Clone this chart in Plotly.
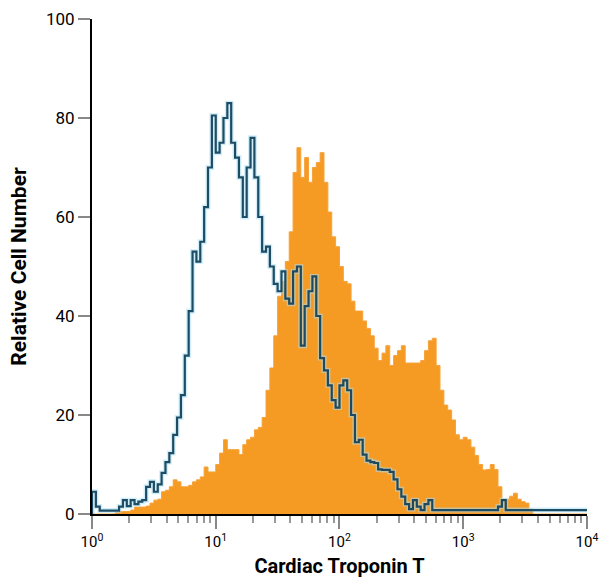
import plotly.graph_objects as go

# 32 channels per decade, channel i spans 10**(i/32) .. 10**((i+1)/32)
BINS_PER_DECADE = 32
N_BINS = 128

isotype = [4.5, 1.5, 0.7, 0.7, 0.7, 0.7, 0.7, 1.5, 2.8, 1.6,
           2.8, 2.0, 2.5, 2.8, 5.5, 6.5, 4.5, 6.0, 8.3, 10.5,
           12.3, 16, 19.5, 24, 32, 41, 53, 51, 55, 62,
           70, 80.5, 73, 75, 80, 83, 75, 72, 68, 60,
           70, 76, 68, 60, 53, 54, 50, 46.5, 45, 49,
           43.5, 42.5, 49, 50, 34, 42, 45, 48, 40, 31.5,
           29, 26, 23, 21.5, 26, 27, 25, 20, 14.5, 15,
           12, 10.8, 10.5, 10.3, 9, 8.9, 8.9, 8.5, 7, 5,
           3.5, 2.0, 1.0, 2.8, 1.5, 0.8, 2.0, 2.8, 0.8, 0.8,
           0.8, 0.8, 0.8, 0.8, 0.8, 0.8, 0.8, 0.8, 0.8, 0.8,
           0.8, 0.8, 0.8, 0.8, 0.8, 1.5, 2.8, 0.8, 0.8, 0.8,
           0.8, 0.8, 0.8, 0.8, 0.8, 0.8, 0.8, 0.8, 0.8, 0.8,
           0.8, 0.8, 0.8, 0.8, 0.8, 0.8, 0.8, 0.8]

troponin = [0, 0, 0, 0, 0, 0, 0.3, 0.5, 0.5, 0.5,
            0.8, 1.4, 1.4, 1.4, 1.6, 2.2, 2.8, 3.0, 4.5, 4.8,
            5.5, 6.9, 6.5, 5.5, 5.5, 5.8, 6.5, 6.9, 7.5, 9.5,
            8.5, 8.5, 10, 12.3, 15, 13, 13, 13, 12, 14,
            15, 15.5, 17, 17.5, 19.5, 25, 29.5, 36, 44, 47,
            51, 57, 69, 74, 68, 72, 67, 70, 71, 73,
            67, 61, 56, 54, 50, 47, 46.5, 43, 41, 41,
            39, 37.5, 36, 33.5, 31, 32.5, 34, 30, 32, 33,
            34, 30.5, 30.5, 30.5, 30.5, 31, 33, 35, 35.5, 30,
            25, 22, 21, 19, 16, 15, 15.5, 15, 13.5, 11.8,
            10, 8.9, 9, 10, 9, 5.5, 3, 3, 3.6, 4.2,
            3, 2.5, 2.2, 1.0, 0, 0, 0, 0, 0, 0,
            0, 0, 0, 0, 0, 0, 0, 0]

x_tick_vals = [1, 10, 100, 1000, 10000]
x_tick_text = ["10<sup>0</sup>", "10<sup>1</sup>", "10<sup>2</sup>",
               "10<sup>3</sup>", "10<sup>4</sup>"]
x_minor_vals = [m * d for d in [1, 10, 100, 1000] for m in range(2, 10)]
y_tick_vals = [0, 20, 40, 60, 80, 100]

edges = [10 ** (i / BINS_PER_DECADE) for i in range(N_BINS + 1)]


def step_xy(values):
    xs = [edges[0]] + edges[:len(values)] + [edges[len(values)]]
    ys = [0] + list(values) + [values[-1]]
    return xs, ys


tx, ty = step_xy(troponin)
ix, iy = step_xy(isotype)

FONT = "Roboto, sans-serif"

fig = go.Figure()
fig.add_trace(go.Scatter(
    x=tx, y=ty, mode="lines", line_shape="hv",
    line=dict(color="#F7A23A", width=1),
    fill="tozeroy", fillcolor="#F59A23", hoverinfo="skip",
))
# soft halo under the isotype outline
fig.add_trace(go.Scatter(
    x=ix, y=iy, mode="lines", line_shape="hv",
    line=dict(color="rgba(170,225,245,0.55)", width=5), hoverinfo="skip",
))
fig.add_trace(go.Scatter(
    x=ix, y=iy, mode="lines", line_shape="hv",
    line=dict(color="rgba(20,66,92,0.95)", width=2.2), hoverinfo="skip",
))

fig.update_layout(
    width=600, height=578,
    margin=dict(l=92, r=13, t=19, b=64, autoexpand=False),
    paper_bgcolor="white", plot_bgcolor="white",
    showlegend=False,
    font=dict(family=FONT, size=17, color="black"),
)
fig.update_xaxes(
    type="log", range=[0, 4.0004], automargin=False,
    tickmode="array", tickvals=x_tick_vals, ticktext=x_tick_text,
    ticks="outside", ticklen=13, tickwidth=1.5, tickcolor="#888888",
    minor=dict(tickmode="array", tickvals=x_minor_vals, ticks="outside",
               ticklen=7, tickwidth=1.5, tickcolor="#999999", showgrid=False),
    showline=True, linecolor="black", linewidth=2,
    showgrid=False, zeroline=False,
    tickfont=dict(family=FONT, size=15, color="black"),
    title=dict(text="<b>Cardiac Troponin T</b>",
               font=dict(family=FONT, size=20, color="black"), standoff=15),
)
fig.update_yaxes(
    range=[0, 100], automargin=False,
    tickmode="array", tickvals=y_tick_vals,
    ticks="outside", ticklen=12, tickwidth=1.5, tickcolor="#888888",
    showline=True, linecolor="black", linewidth=2,
    showgrid=False, zeroline=False,
    tickfont=dict(family=FONT, size=17, color="black"),
    title=dict(text="<b>Relative Cell Number</b>",
               font=dict(family=FONT, size=21, color="black"), standoff=14),
)

fig.write_html(
    "out.html",
    config={"displayModeBar": False},
    post_script="document.body.style.margin='0px';"
                "document.body.style.overflow='hidden';",
)
